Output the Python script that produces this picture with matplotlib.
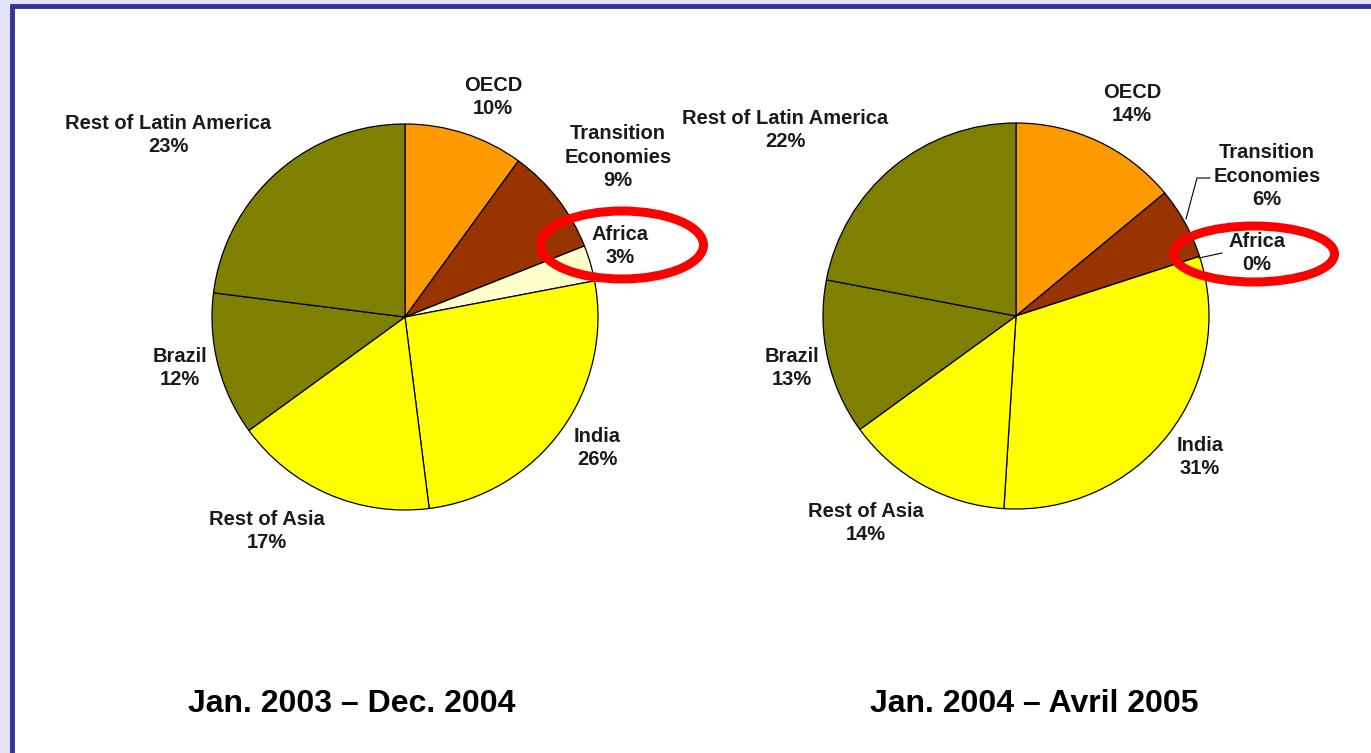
import matplotlib
matplotlib.use('Agg')
import matplotlib.pyplot as plt
from matplotlib.patches import Ellipse, Rectangle

plt.rcParams['font.family'] = ['Liberation Sans', 'DejaVu Sans']

# data
categories = ['OECD', 'Transition\nEconomies', 'Africa', 'India',
              'Rest of Asia', 'Brazil', 'Rest of Latin America']
share_2003_2004 = [10, 9, 3, 26, 17, 12, 23]
share_2004_2005 = [14, 6, 0, 31, 14, 13, 22]
periods = ['Jan. 2003 \u2013 Dec. 2004', 'Jan. 2004 \u2013 Avril 2005']
colors = ['#FF9900', '#993300', '#FFFFCC', '#FFFF00', '#FFFF00', '#808000', '#808000']

W, H = 1371, 753
fig = plt.figure(figsize=(W / 100, H / 100), dpi=100)
fig.patch.set_facecolor('#E2E2F8')
ax = fig.add_axes([0, 0, 1, 1])


def Y(y):
    # image row -> axes y
    return H - y


# layout: pie centres, radius, label anchors (image pixels)
centres = [(405, 317), (1016, 316)]
radius = 193
label_xy = [
    [(493, 97), (618, 157), (620, 246), (597, 448), (267, 531), (180, 368), (168, 135)],
    [(1132, 104), (1267, 176), (1257, 253), (1200, 457), (866, 523), (792, 368), (785, 130)],
]
title_xy = [(352, 704), (1034, 704)]
ellipses = [((622, 245), 163, 68), ((1254, 254), 161, 56)]

ax.add_patch(Rectangle((12, -10), W, Y(6) + 10, facecolor='white',
                       edgecolor='#333399', linewidth=3.5, zorder=0))

for k, vals in enumerate([share_2003_2004, share_2004_2005]):
    cx, cy = centres[k]
    ax.pie(vals, colors=colors, startangle=90, counterclock=False,
           center=(cx, Y(cy)), radius=radius,
           wedgeprops=dict(edgecolor='black', linewidth=0.9))
    for name, v, (lx, ly) in zip(categories, vals, label_xy[k]):
        ax.text(lx, Y(ly), f'{name}\n{v}%', ha='center', va='center',
                fontsize=14.5, fontweight='bold', color='#1a1a1a',
                linespacing=1.3)
    ax.text(title_xy[k][0], Y(title_xy[k][1]), periods[k], ha='center',
            va='center', fontsize=23, fontweight='bold', color='black')
    (ex, ey), ew, eh = ellipses[k]
    ax.add_patch(Ellipse((ex, Y(ey)), ew, eh, facecolor='none',
                         edgecolor='#FF0000', linewidth=6.5, zorder=5))

# leader lines on the right pie
ax.plot([1186, 1197, 1210], [Y(219), Y(178), Y(178)], color='black', lw=0.8)
ax.plot([1199, 1222], [Y(258), Y(253)], color='black', lw=0.8)

ax.set_xlim(0, W)
ax.set_ylim(0, H)
ax.set_aspect('equal')
ax.axis('off')

fig.savefig('out.png', dpi=100, facecolor=fig.get_facecolor())
